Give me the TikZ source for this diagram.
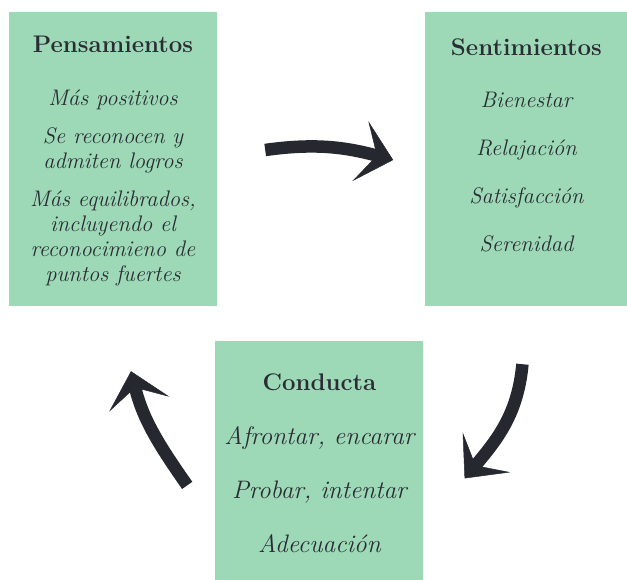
\documentclass[tikz,border=0pt]{standalone}
\usepackage{fontspec}
\usepackage{xcolor}
\usetikzlibrary{arrows.meta, positioning}
\definecolor{boxgreen}{RGB}{157,217,183}
\definecolor{inkgray}{RGB}{42,45,52}
\definecolor{arrowgray}{RGB}{37,41,47}

\begin{document}
\begin{tikzpicture}[x=1pt,y=1pt]
    \tikzstyle{box}=[fill=boxgreen, inner sep=0pt, minimum width=208pt, minimum height=294pt]
    \tikzstyle{boxtext}=[inner sep=0pt, align=center, text=inkgray, font=\fontsize{22.5}{25}\selectfont\itshape]
    \tikzstyle{turn}=[draw=arrowgray, line width=12.5pt, -{Stealth[length=34pt,width=62pt,inset=17pt,line width=0.5pt,fill=arrowgray]}]

    \useasboundingbox (0,0) rectangle (627,-580);

    \node[box] (P0) at (113,-159) {};
    \node[box, minimum width=202pt, right=208pt of P0] (S0) {};
    \node[box, minimum height=239pt, below right=35pt and -2pt of P0.south east] (C0) {};

    \node[boxtext, below=24pt of P0.north] (P1) {{\upshape\bfseries\fontsize{24}{25}\selectfont Pensamientos}\\[28pt]
        Más positivos\\[13pt]
        Se reconocen y\\ admiten logros\\[13pt]
        Más equilibrados,\\ incluyendo el\\ reconocimieno de\\ puntos fuertes};
    \node[boxtext, below=27pt of S0.north] (S1) {{\upshape\bfseries\fontsize{24}{25}\selectfont Sentimientos}\\[27pt]
        Bienestar\\[23pt]
        Relajación\\[23pt]
        Satisfacción\\[23pt]
        Serenidad};
    \node[boxtext, font=\fontsize{25.3}{28}\selectfont\itshape, below=32pt of C0.north] (C1) {{\upshape\bfseries\fontsize{24}{28}\selectfont Conducta}\\[26pt]
        Afrontar, encarar\\[26pt]
        Probar, intentar\\[26pt]
        Adecuación};

    \draw[turn] ([xshift=48pt,yshift=9pt]P0.east) to[out=8,in=165] ([xshift=-32pt,yshift=-1pt]S0.west);
    \draw[turn] ([xshift=-4pt,yshift=-58pt]S0.south) to[out=-95,in=50] ([xshift=41pt,yshift=-17.5pt]C0.east);
    \draw[turn] ([xshift=-28pt,yshift=-24.5pt]C0.west) to[out=125,in=-76] ([xshift=18pt,yshift=-65pt]P0.south);
\end{tikzpicture}
\end{document}
